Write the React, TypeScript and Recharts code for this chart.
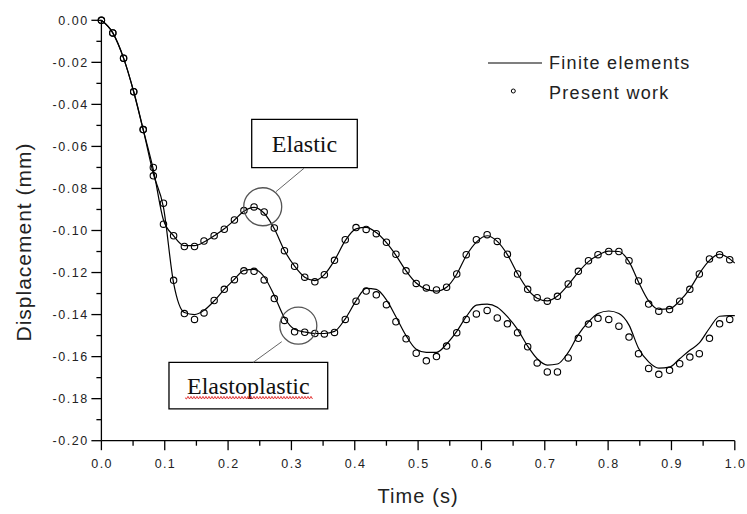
import React from 'react'
import {
  ComposedChart, Line, Scatter, XAxis, YAxis, Legend,
  ReferenceArea, ReferenceDot, ReferenceLine,
} from 'recharts'

const SANS = '"Liberation Sans", Arial, sans-serif'
const SERIF = '"Liberation Serif", "Times New Roman", serif'

// time (s) of each computed step; the FE curves also run to 1.0
const times = [
  0, 0.018, 0.035, 0.051, 0.066, 0.082, 0.098, 0.114, 0.131, 0.147,
  0.162, 0.178, 0.194, 0.21, 0.225, 0.241, 0.257, 0.273, 0.289, 0.305,
  0.321, 0.337, 0.352, 0.368, 0.385, 0.402, 0.418, 0.434, 0.45, 0.465,
  0.481, 0.497, 0.513, 0.529, 0.545, 0.561, 0.576, 0.592, 0.609, 0.625,
  0.641, 0.657, 0.673, 0.688, 0.704, 0.72, 0.737, 0.753, 0.769, 0.784,
  0.801, 0.817, 0.833, 0.848, 0.864, 0.88, 0.897, 0.913, 0.929, 0.944,
  0.96, 0.976, 0.992, 1.0,
]

// finite elements (solid lines)
const feElastic = [
  0, -0.006, -0.018, -0.034, -0.052, -0.071, -0.095, -0.1025, -0.1072, -0.1072,
  -0.1055, -0.1025, -0.0992, -0.095, -0.0908, -0.089, -0.0918, -0.0992, -0.1095, -0.117,
  -0.1222, -0.1238, -0.121, -0.1142, -0.1048, -0.0992, -0.0985, -0.101, -0.1058, -0.1118,
  -0.1192, -0.125, -0.128, -0.1288, -0.127, -0.1208, -0.112, -0.1055, -0.1025, -0.1052,
  -0.1115, -0.1205, -0.128, -0.1322, -0.1335, -0.1312, -0.1258, -0.1198, -0.1148, -0.1118,
  -0.1098, -0.11, -0.1148, -0.1245, -0.1335, -0.1375, -0.1372, -0.1335, -0.1278, -0.1205,
  -0.1142, -0.1112, -0.1135, -0.1155,
]
const fePlastic = [
  0, -0.006, -0.018, -0.034, -0.052, -0.073, -0.089, -0.125, -0.139, -0.14,
  -0.138, -0.1335, -0.128, -0.1232, -0.119, -0.1185, -0.122, -0.131, -0.1415, -0.147,
  -0.1483, -0.149, -0.149, -0.148, -0.142, -0.1335, -0.1275, -0.128, -0.133, -0.141,
  -0.15, -0.1565, -0.158, -0.158, -0.154, -0.148, -0.141, -0.1355, -0.135, -0.1365,
  -0.141, -0.147, -0.155, -0.161, -0.164, -0.1635, -0.158, -0.1495, -0.1435, -0.1395,
  -0.1383, -0.1395, -0.145, -0.156, -0.1625, -0.1655, -0.165, -0.161, -0.157, -0.1535,
  -0.1465, -0.1408, -0.1405, -0.1405,
]

// present work (open circles), one per step up to 0.992
const pwElastic = [
  0, -0.006, -0.018, -0.034, -0.052, -0.07, -0.097, -0.1025, -0.1076, -0.1076,
  -0.105, -0.1025, -0.0994, -0.095, -0.0905, -0.0888, -0.0912, -0.0988, -0.1096, -0.117,
  -0.1222, -0.1244, -0.121, -0.1142, -0.1044, -0.0986, -0.0995, -0.1015, -0.1056, -0.1113,
  -0.1192, -0.1252, -0.1273, -0.1283, -0.127, -0.1207, -0.1115, -0.1044, -0.102, -0.1052,
  -0.1113, -0.1207, -0.128, -0.132, -0.1336, -0.1313, -0.1254, -0.1194, -0.1144, -0.1115,
  -0.11, -0.11, -0.1144, -0.124, -0.135, -0.1384, -0.1376, -0.1336, -0.128, -0.1207,
  -0.1135, -0.1115, -0.1139,
]
const pwPlastic = [
  0, -0.006, -0.018, -0.034, -0.052, -0.074, -0.087, -0.1237, -0.1395, -0.1423,
  -0.1392, -0.1333, -0.128, -0.1234, -0.1192, -0.1194, -0.1235, -0.1324, -0.1428, -0.1482,
  -0.1484, -0.149, -0.1492, -0.1485, -0.1423, -0.1336, -0.1288, -0.1306, -0.1353, -0.1434,
  -0.1515, -0.1584, -0.162, -0.16, -0.155, -0.1486, -0.1423, -0.1397, -0.138, -0.1416,
  -0.1444, -0.1486, -0.1553, -0.163, -0.1673, -0.1673, -0.1606, -0.1513, -0.1445, -0.1418,
  -0.1423, -0.1455, -0.1507, -0.1586, -0.1656, -0.1684, -0.1665, -0.1634, -0.1602, -0.1586,
  -0.1513, -0.1444, -0.1423,
]

const xTicks = [
  0, 0.05, 0.1, 0.15, 0.2, 0.25, 0.3, 0.35, 0.4, 0.45, 0.5,
  0.55, 0.6, 0.65, 0.7, 0.75, 0.8, 0.85, 0.9, 0.95, 1.0,
]
const yTicks = [
  0, -0.01, -0.02, -0.03, -0.04, -0.05, -0.06, -0.07, -0.08, -0.09, -0.1,
  -0.11, -0.12, -0.13, -0.14, -0.15, -0.16, -0.17, -0.18, -0.19, -0.2,
]

const lineData = times.map((t, i) => ({ t, feE: feElastic[i], feP: fePlastic[i] }))
const elasticPts = pwElastic.map((v, i) => ({ t: times[i], v }))
const plasticPts = pwPlastic.map((v, i) => ({ t: times[i], v }))

const axisStyle = { stroke: '#000', strokeWidth: 1.3 }
const isMajorX = (v: number) => Math.round(v * 100) % 10 === 0
const isMajorY = (v: number) => Math.round(Math.abs(v) * 100) % 2 === 0

function BottomTick({ x, y, payload }: any) {
  const major = isMajorX(payload.value)
  return (
    <g>
      <line x1={x} x2={x} y1={y} y2={y + (major ? 9.5 : 5)} stroke="#000" strokeWidth={1.3} />
      {major && (
        <text x={x + 0.7} y={y + 27.6} textAnchor="middle" fontSize={12.5} letterSpacing={1.4}
          fill="#222" fontFamily={SANS}>
          {payload.value.toFixed(1)}
        </text>
      )}
    </g>
  )
}

function TopTick({ x, y, payload }: any) {
  const major = isMajorX(payload.value)
  return <line x1={x} x2={x} y1={y} y2={y - (major ? 10 : 5)} stroke="#000" strokeWidth={1.3} />
}

function LeftTick({ x, y, payload }: any) {
  const major = isMajorY(payload.value)
  return (
    <g>
      <line x1={x} x2={x - (major ? 10 : 5)} y1={y} y2={y} stroke="#000" strokeWidth={1.3} />
      {major && (
        <text x={x - 12.5} y={y} dy={4.5} textAnchor="end" fontSize={12.5} letterSpacing={1.6}
          fill="#222" fontFamily={SANS}>
          {payload.value.toFixed(2)}
        </text>
      )}
    </g>
  )
}

function RightTick({ x, y, payload }: any) {
  const major = isMajorY(payload.value)
  return <line x1={x} x2={x + (major ? 10 : 5)} y1={y} y2={y} stroke="#000" strokeWidth={1.3} />
}

const Ring = (p: any) => (
  <circle cx={p.cx} cy={p.cy} r={3.2} fill="none" stroke="#000" strokeWidth={1.1} />
)

function XTitle({ viewBox }: any) {
  return (
    <text x={viewBox.x + viewBox.width / 2} y={viewBox.y + 62.3} textAnchor="middle"
      fontSize={20} letterSpacing={1.1} fill="#222" fontFamily={SANS}>
      Time (s)
    </text>
  )
}

function YTitle({ viewBox }: any) {
  const cx = viewBox.x + 23
  const cy = viewBox.y + viewBox.height / 2 + 11.5
  return (
    <text x={cx} y={cy} transform={`rotate(-90 ${cx} ${cy})`} textAnchor="middle"
      dominantBaseline="central" fontSize={21} letterSpacing={1} fill="#222" fontFamily={SANS}>
      Displacement (mm)
    </text>
  )
}

function boxLabel(text: string, size: number, baseline: number, squiggle: boolean) {
  return ({ viewBox }: any) => {
    const { x, y, width } = viewBox
    let d = ''
    if (squiggle) {
      const x0 = x + 16
      const x1 = x + 142.7
      const yy = y + 35.4
      d = `M${x0},${yy}`
      for (let k = 0, xx = x0; xx < x1; k++, xx += 1.5) {
        d += ` L${xx + 1.5},${yy + (k % 2 === 0 ? 1.3 : -1.3)}`
      }
    }
    return (
      <g>
        <text x={x + width / 2} y={y + baseline} textAnchor="middle" fontSize={size}
          fill="#111" fontFamily={SERIF}>
          {text}
        </text>
        {squiggle && <path d={d} fill="none" stroke="#e02020" strokeWidth={0.9} />}
      </g>
    )
  }
}

function LegendBox() {
  return (
    <svg width={240} height={60} style={{ display: 'block' }}>
      <line x1={8} x2={62} y1={17} y2={17} stroke="#000" strokeWidth={1.2} />
      <text x={69} y={23.3} fontSize={18} letterSpacing={1.3} fill="#222" fontFamily={SANS}>
        Finite elements
      </text>
      <circle cx={33.3} cy={45} r={2} fill="none" stroke="#000" strokeWidth={1} />
      <text x={69} y={53.3} fontSize={18} letterSpacing={1.3} fill="#222" fontFamily={SANS}>
        Present work
      </text>
    </svg>
  )
}

export default function App() {
  return (
    <div style={{ position: 'absolute', left: 0, top: 0, width: 747, height: 514, background: '#fff' }}>
      <ComposedChart width={747} height={514} data={lineData} style={{ overflow: 'visible' }}
        margin={{ top: 20.3, right: 12.2, bottom: 40, left: 0 }}>
        <XAxis dataKey="t" type="number" domain={[0, 1]} ticks={xTicks} interval={0}
          tickSize={0} tickMargin={0} tick={<BottomTick />} tickLine={false}
          axisLine={axisStyle} height={33.3} label={<XTitle />} />
        <XAxis xAxisId="top" orientation="top" dataKey="t" type="number" domain={[0, 1]}
          ticks={xTicks} interval={0} tickSize={0} tickMargin={0} tick={<TopTick />}
          tickLine={false} axisLine={axisStyle} height={0} />
        <YAxis type="number" domain={[-0.2, 0]} ticks={yTicks} interval={0} tickSize={0}
          tickMargin={0} tick={<LeftTick />} tickLine={false} axisLine={axisStyle}
          width={101.4} label={<YTitle />} />
        <YAxis yAxisId="right" orientation="right" type="number" domain={[-0.2, 0]}
          ticks={yTicks} interval={0} tickSize={0} tickMargin={0} tick={<RightTick />}
          tickLine={false} axisLine={axisStyle} width={0} />

        <Legend layout="vertical" align="center" verticalAlign="middle" content={<LegendBox />}
          wrapperStyle={{ left: 480, top: 46, width: 240, height: 60 }} />

        <Line dataKey="feE" type="monotone" stroke="#000" strokeWidth={1.2} dot={false}
          activeDot={false} isAnimationActive={false} />
        <Line dataKey="feP" type="monotone" stroke="#000" strokeWidth={1.2} dot={false}
          activeDot={false} isAnimationActive={false} />
        <Scatter data={elasticPts} dataKey="v" shape={Ring} isAnimationActive={false} />
        <Scatter data={plasticPts} dataKey="v" shape={Ring} isAnimationActive={false} />

        <ReferenceLine segment={[{ x: 0.2757, y: -0.0815 }, { x: 0.3199, y: -0.0704 }]}
          stroke="#666" strokeWidth={1} />
        <ReferenceLine segment={[{ x: 0.2847, y: -0.1529 }, { x: 0.2398, y: -0.1627 }]}
          stroke="#666" strokeWidth={1} />
        <ReferenceDot x={0.2547} y={-0.0887} r={19} fill="none" stroke="#555" strokeWidth={1.3} />
        <ReferenceDot x={0.3109} y={-0.1453} r={18.5} fill="none" stroke="#555" strokeWidth={1.3} />
        <ReferenceArea x1={0.2373} x2={0.404} y1={-0.0471} y2={-0.0701} fill="#fff"
          fillOpacity={1} stroke="#000" strokeWidth={1.3}
          label={boxLabel('Elastic', 24, 32.4, false)} />
        <ReferenceArea x1={0.1067} x2={0.3573} y1={-0.1627} y2={-0.1849} fill="#fff"
          fillOpacity={1} stroke="#000" strokeWidth={1.3}
          label={boxLabel('Elastoplastic', 24, 31.5, true)} />
      </ComposedChart>
    </div>
  )
}
